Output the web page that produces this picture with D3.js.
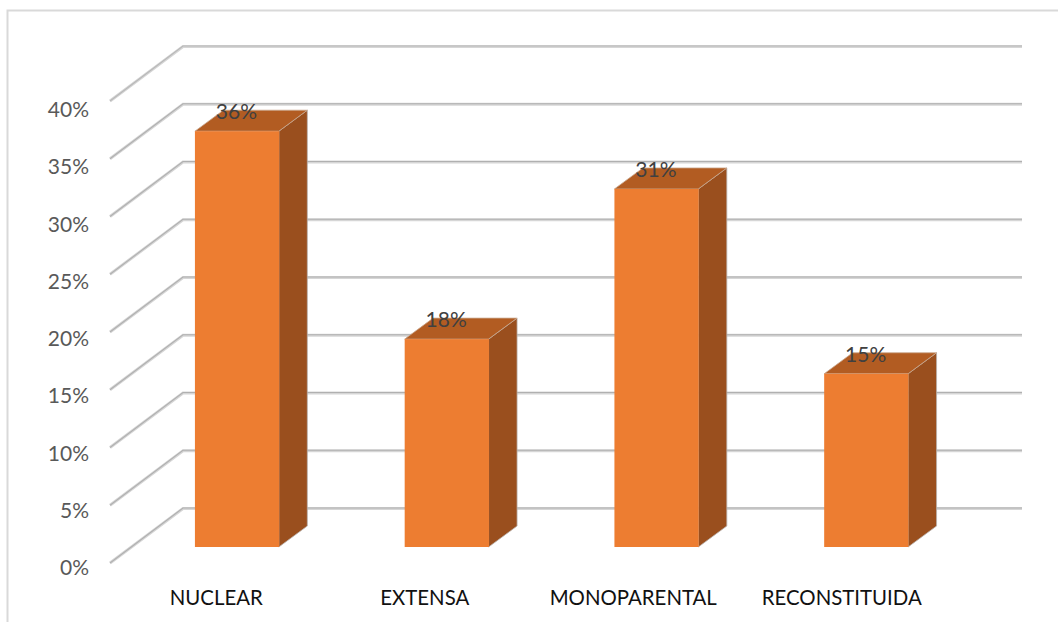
<!DOCTYPE html>
<html>
<head>
	<meta charset="utf-8">
	<title>Tipos de familia</title>
	<style type="text/css">
		html, body {
			margin: 0;
			padding: 0;
			background: #fff;
		}
		svg {
			display: block;
			font-family: Lato, sans-serif;
		}
	</style>
</head>
<body>
<script src="https://d3js.org/d3.v7.min.js"></script>
<script>

var categories = ["NUCLEAR", "EXTENSA", "MONOPARENTAL", "RECONSTITUIDA"];
var values = [36, 18, 31, 15];
var ticks = [0, 5, 10, 15, 20, 25, 30, 35, 40];

var width = 1058;
var height = 622;

// wall depth and bar depth, in px
var wall = { dx: 73, dy: -55 };
var depth = { dx: 28.5, dy: -21 };

var svg = d3.select("body").append("svg")
	.attr("width", width)
	.attr("height", height);

var y = d3.scaleLinear().domain([0, 40]).range([563, 101]);
// labels are spaced a little tighter than the lines
var yLabel = d3.scaleLinear().domain([0, 40]).range([568, 110]);
var x = d3.scaleBand().domain(categories).range([132, 971]).paddingInner(0.6).paddingOuter(0.3);
var xLabel = d3.scaleBand().domain(categories).range([112, 946]);

// the bars sit a bit behind the axis plane
var barBase = 547;
var barHeight = function(v) { return y(0) - y(v); };

// chart frame, cut by the page on the right and the bottom
svg.append("path")
	.attr("d", "M7.5,622V10.5H1058")
	.attr("fill", "none")
	.attr("stroke", "#d9d9d9")
	.attr("stroke-width", 2);

// Grid: side line and back line for each tick
var grid = svg.append("g").attr("fill", "none");

grid.selectAll("path.under")
	.data(ticks)
	.join("path")
		.attr("class", "under")
		.attr("d", function(d) {
			return "M110," + y(d) + "L" + (110 + wall.dx) + "," + (y(d) + wall.dy + 0.5) + "H1022";
		})
		.attr("stroke", "#d6d6d6")
		.attr("stroke-width", 3);

grid.selectAll("path.over")
	.data(ticks)
	.join("path")
		.attr("class", "over")
		.attr("d", function(d) {
			return "M110," + y(d) + "L" + (110 + wall.dx) + "," + (y(d) + wall.dy) + "H1022";
		})
		.attr("stroke", function(d) { return d == 40 ? "#b8b8b8" : "#b0b0b0"; })
		.attr("stroke-width", 1.1);

// Axis labels
var axis = d3.axisLeft(yLabel)
	.tickValues(ticks)
	.tickFormat(function(d) { return d + "%"; })
	.tickSize(0)
	.tickPadding(0);

var yAxis = svg.append("g")
	.attr("transform", "translate(89,0)")
	.call(axis);
yAxis.select(".domain").remove();
yAxis.selectAll("text")
	.attr("fill", "#595959")
	.attr("font-size", 21)
	.attr("font-family", "Lato, sans-serif");

// Bars
var bars = svg.append("g")
	.selectAll("g")
	.data(categories)
	.join("g");

function poly(points) {
	return points.map(function(p) { return p.join(","); }).join(" ");
}

// side
bars.append("polygon")
	.attr("fill", "#9a4f1e")
	.attr("stroke", "#b9b3ae")
	.attr("stroke-width", 0.8)
	.attr("points", function(c, i) {
		var r = x(c) + x.bandwidth();
		var top = barBase - barHeight(values[i]);
		return poly([[r, top], [r + depth.dx, top + depth.dy], [r + depth.dx, barBase + depth.dy], [r, barBase]]);
	});

// top
bars.append("polygon")
	.attr("fill", "#b25c22")
	.attr("stroke", "#c9a88f")
	.attr("stroke-width", 0.8)
	.attr("points", function(c, i) {
		var l = x(c);
		var r = l + x.bandwidth();
		var top = barBase - barHeight(values[i]);
		return poly([[l, top], [l + depth.dx, top + depth.dy], [r + depth.dx, top + depth.dy], [r, top]]);
	});

// front
bars.append("rect")
	.attr("x", function(c) { return x(c); })
	.attr("y", function(c, i) { return barBase - barHeight(values[i]); })
	.attr("width", x.bandwidth() + 0.4)
	.attr("height", function(c, i) { return barHeight(values[i]); })
	.attr("fill", "#ed7d31");

// Data labels
svg.append("g")
	.selectAll("text")
	.data(categories)
	.join("text")
		.attr("x", function(c) { return x(c) + x.bandwidth() / 2 - 0.5; })
		.attr("y", function(c, i) { return barBase - barHeight(values[i]) - 12; })
		.attr("text-anchor", "middle")
		.attr("font-size", 21)
		.attr("fill", "#404040")
		.text(function(c, i) { return values[i] + "%"; });

// Category labels
svg.append("g")
	.selectAll("text")
	.data(categories)
	.join("text")
		.attr("x", function(c) { return xLabel(c) + xLabel.bandwidth() / 2; })
		.attr("y", 605)
		.attr("text-anchor", "middle")
		.attr("font-size", 20.4)
		.attr("fill", "#111")
		.text(function(c) { return c; });

</script>
</body>
</html>
